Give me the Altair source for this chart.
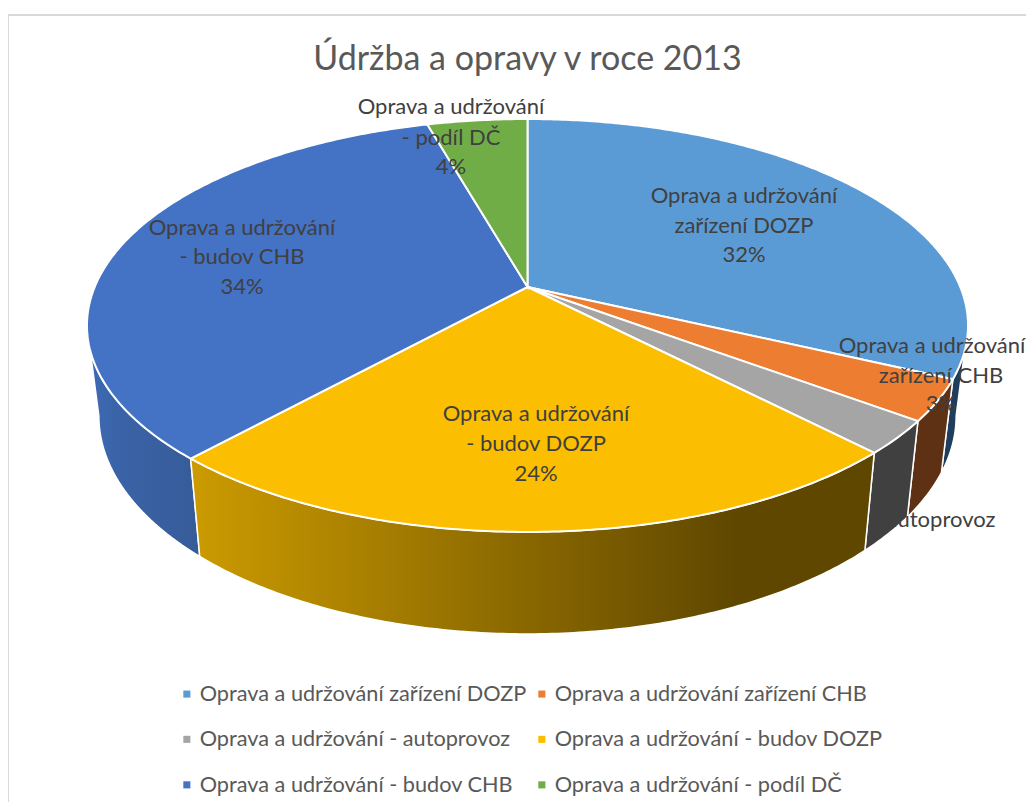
import altair as alt
import numpy as np
import pandas as pd

TITLE = "Údržba a opravy v roce 2013"
names = ["Oprava a udržování zařízení DOZP", "Oprava a udržování zařízení CHB",
         "Oprava a udržování - autoprovoz", "Oprava a udržování - budov DOZP",
         "Oprava a udržování - budov CHB", "Oprava a udržování - podíl DČ"]
shares = [32.0, 3.2, 2.6, 23.9, 33.9, 4.4]
top_colors = ["#5B9BD5", "#ED7D31", "#A5A5A5", "#FBBE00", "#4472C4", "#70AD47"]
side_colors = ["#1F3D5C", "#5E3014", "#404040", "#8A6A00", "#3A5F9F", "#43682B"]

label_lines = ["Oprava a udržování", "zařízení DOZP", "32%",
               "Oprava a udržování", "zařízení CHB", "3%",
               "autoprovoz",
               "Oprava a udržování", "- budov DOZP", "24%",
               "Oprava a udržování", "- budov CHB", "34%",
               "Oprava a udržování", "- podíl DČ", "4%"]
label_x = [744, 744, 744, 932, 941, 941, 941, 536, 536, 536, 242, 242, 242, 451, 451, 451]
label_y = [196, 226, 255, 346, 376, 404, 520, 414, 444, 474, 228, 257, 287, 107, 138, 167]

# perspective projection of the pie disc, in page pixels
CX, CY, A, B, K = 527.5, 287.0, 432.8, 199.3, 0.1864
SX, SY, TY = 0.973, 1.055, 72.7
FRONT = (np.arccos(-K), 2 * np.pi - np.arccos(-K))


def rim(theta):
    X, Y = np.sin(theta), np.cos(theta)
    w = 1 + K * Y
    return CX + A * X / w, CY - B * Y / w


def lower(x, y):
    return CX + SX * (x - CX), SY * y + TY


edges = np.cumsum([0] + shares) / sum(shares) * 2 * np.pi
top_rows, side_rows = [], []
for idx, name in enumerate(names):
    n = max(8, int(shares[idx] * 6))
    th = np.linspace(edges[idx], edges[idx + 1], n)
    x, y = rim(th)
    px = [CX] + list(x)
    py = [CY] + list(y)
    for i, (a, b) in enumerate(zip(px, py)):
        top_rows.append(dict(name=name, i=i, x=a, y=b))
    # only the part of the wall that faces the viewer
    lo, hi = max(edges[idx], FRONT[0]), min(edges[idx + 1], FRONT[1])
    if hi > lo:
        tf = np.linspace(lo, hi, n)
        x, y = rim(tf)
        xl, yl = lower(x, y)
        sx = list(x) + list(xl[::-1])
        sy = list(y) + list(yl[::-1])
        for i, (a, b) in enumerate(zip(sx, sy)):
            side_rows.append(dict(name=name, i=i, x=a, y=b))
top_df = pd.DataFrame(top_rows)
side_df = pd.DataFrame(side_rows)
label_df = pd.DataFrame(dict(t=label_lines, x=label_x, y=label_y))

W, H = 1018, 794
xs = alt.Scale(domain=[8, 1026], range=[0, W])
ys = alt.Scale(domain=[8, 802], range=[0, H])
X = alt.X("x:Q", scale=xs, axis=None)
Y = alt.Y("y:Q", scale=ys, axis=None)


def grad(stops):
    return alt.LinearGradient(gradient="linear", x1=0, x2=1, y1=0, y2=0,
                              stops=[alt.GradientStop(offset=o, color=c) for o, c in stops])


side_fill = {
    0: side_colors[0], 1: side_colors[1], 2: side_colors[2],
    3: grad([(0, "#CC9B00"), (0.8, "#5F4700"), (1, "#5F4700")]),
    4: grad([(0, "#3F6CB8"), (0.25, "#3A64A8"), (1, "#375B98")]),
}
sides = []
for idx in [0, 4, 1, 2, 3]:
    sides.append(
        alt.Chart(side_df[side_df.name == names[idx]])
        .mark_line(interpolate="linear-closed", fill=side_fill[idx], stroke="white", strokeWidth=1.5)
        .encode(x=X, y=Y, order="i:Q")
    )

tops = (
    alt.Chart(top_df)
    .mark_line(interpolate="linear-closed", stroke="white", strokeWidth=2)
    .encode(
        x=X, y=Y, order="i:Q",
        fill=alt.Fill(
            "name:N",
            scale=alt.Scale(domain=names, range=top_colors),
            legend=alt.Legend(
                title=None, orient="none", legendX=168, legendY=675, columns=2,
                direction="horizontal",
                symbolType="square", symbolSize=50, symbolStrokeWidth=0,
                labelFont="Lato", labelFontSize=21.7, labelColor="#595959",
                labelLimit=400, columnPadding=4, rowPadding=22.5, labelOffset=2,
            ),
        ),
    )
)

labels = (
    alt.Chart(label_df)
    .mark_text(font="Lato", fontSize=22, color="#404040", align="center", baseline="middle")
    .encode(x=X, y=Y, text="t:N")
)
title_df = pd.DataFrame(dict(t=[TITLE], x=[527.5], y=[60]))
title = (
    alt.Chart(title_df)
    .mark_text(font="Lato", fontSize=34, color="#595959", align="center", baseline="middle")
    .encode(x=X, y=Y, text="t:N")
)
border_df = pd.DataFrame(dict(x=[8, 8, 1026], y=[802, 15, 15]))
border = (
    alt.Chart(border_df)
    .mark_line(color="#D9D9D9", strokeWidth=2)
    .encode(x=X, y=Y, order=alt.Order("x:Q"))
)

chart = (
    alt.layer(border, *sides, tops, labels, title)
    .properties(width=W, height=H, padding=0, autosize=alt.AutoSizeParams(type="none"), background="white")
    .configure_view(stroke=None)
)
chart.save("out.html", embed_options={"renderer": "svg", "actions": False})
